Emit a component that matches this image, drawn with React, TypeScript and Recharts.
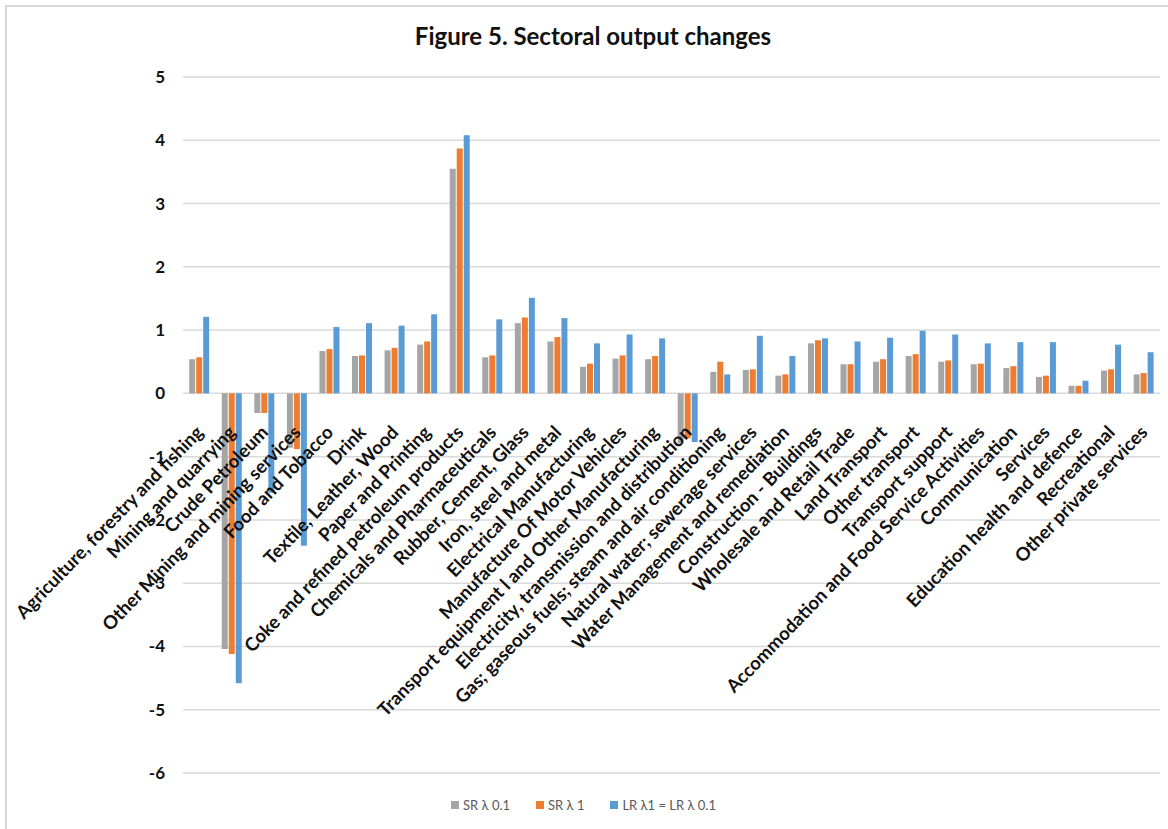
import React from 'react';
import { BarChart, Bar, XAxis, YAxis, CartesianGrid, Legend, LabelList } from 'recharts';

const sectors = [
  'Agriculture, forestry and fishing',
  'Mining and quarrying',
  'Crude Petroleum',
  'Other Mining and mining services',
  'Food and Tobacco',
  'Drink',
  'Textile, Leather, Wood',
  'Paper and Printing',
  'Coke and refined petroleum products',
  'Chemicals and Pharmaceuticals',
  'Rubber, Cement, Glass',
  'Iron, steel and metal',
  'Electrical Manufacturing',
  'Manufacture Of Motor Vehicles',
  'Transport equipment l and Other Manufacturing',
  'Electricity, transmission and distribution',
  'Gas; gaseous fuels; steam and air conditioning',
  'Natural water; sewerage services',
  'Water Management and remediation',
  'Construction - Buildings',
  'Wholesale and Retail Trade',
  'Land Transport',
  'Other transport',
  'Transport support',
  'Accommodation and Food Service Activities',
  'Communication',
  'Services',
  'Education health and defence',
  'Recreational',
  'Other private services',
];

const srLambda01 = [
  0.54, -4.04, -0.31, -0.86, 0.67, 0.59, 0.68, 0.77, 3.55, 0.57,
  1.11, 0.82, 0.42, 0.55, 0.54, -0.79, 0.34, 0.37, 0.28, 0.79,
  0.46, 0.5, 0.59, 0.5, 0.46, 0.4, 0.26, 0.12, 0.36, 0.3,
];

const srLambda1 = [
  0.57, -4.12, -0.31, -0.88, 0.7, 0.6, 0.72, 0.82, 3.87, 0.6,
  1.2, 0.89, 0.47, 0.6, 0.59, -0.71, 0.5, 0.38, 0.3, 0.84,
  0.46, 0.54, 0.62, 0.52, 0.47, 0.43, 0.28, 0.12, 0.38, 0.32,
];

const lrLambda = [
  1.21, -4.58, -1.57, -2.41, 1.05, 1.11, 1.07, 1.25, 4.08, 1.17,
  1.51, 1.19, 0.79, 0.93, 0.87, -0.77, 0.3, 0.91, 0.59, 0.87,
  0.82, 0.88, 0.99, 0.93, 0.79, 0.81, 0.81, 0.2, 0.77, 0.65,
];

const yTicks = [-6, -5, -4, -3, -2, -1, 0, 1, 2, 3, 4, 5];

const seriesInfo = [
  { key: 'sr01', name: 'SR λ 0.1', color: '#a5a5a5' },
  { key: 'sr1', name: 'SR λ 1', color: '#ed7d31' },
  { key: 'lr', name: 'LR λ1 = LR λ 0.1', color: '#5b9bd5' },
];

const data = sectors.map((name, i) => ({
  name,
  sr01: srLambda01[i],
  sr1: srLambda1[i],
  lr: lrLambda[i],
}));

const FONT = 'Lato, "Open Sans", sans-serif';

// category labels sit under the zero line, like Excel does
const CategoryLabel = (props: any) => {
  const vb = props.viewBox || props;
  const x = Number(props.x ?? vb.x);
  const y = Number(props.y ?? vb.y);
  const w = Number(props.width ?? vb.width);
  const h = Number(props.height ?? vb.height);
  const idx = props.index;
  const v = idx != null ? srLambda1[idx] : 1;
  const top = Math.min(y, y + h);
  const bottom = Math.max(y, y + h);
  const zeroY = v >= 0 ? bottom : top;
  const px = x + w / 2 + 5;
  const py = zeroY + 40;
  return (
    <text
      x={px}
      y={py}
      transform={`rotate(-46, ${px}, ${py})`}
      textAnchor="end"
      fontFamily={FONT}
      fontWeight={700}
      fontSize={18.5}
      fill="#111"
    >
      {idx != null ? sectors[idx] : props.value}
    </text>
  );
};

const LegendBox = () => (
  <div style={{ display: 'flex', justifyContent: 'center', gap: 26, fontSize: 13, color: '#595959', fontFamily: FONT }}>
    {seriesInfo.map((s) => (
      <span key={s.key} style={{ display: 'flex', alignItems: 'center', gap: 4 }}>
        <span style={{ width: 8, height: 8, background: s.color, display: 'inline-block' }} />
        {s.name}
      </span>
    ))}
  </div>
);

export default function App() {
  return (
    <div
      style={{
        position: 'absolute',
        left: 5,
        top: 5,
        width: 1163,
        height: 824,
        borderTop: '2px solid #d9d9d9',
        borderLeft: '2px solid #d9d9d9',
        background: '#fff',
        fontFamily: FONT,
      }}
    >
      <div
        style={{
          position: 'absolute',
          top: 14,
          left: 0,
          width: 1172,
          textAlign: 'center',
          fontSize: 24,
          fontWeight: 700,
          color: '#111',
        }}
      >
        Figure 5. Sectoral output changes
      </div>
      <BarChart
        width={1161}
        height={822}
        data={data}
        margin={{ top: 70, right: 8, left: 0, bottom: 40 }}
        barCategoryGap="19%"
        barGap={1}
      >
        <CartesianGrid vertical={false} stroke="#d9d9d9" strokeWidth={1.5} />
        <XAxis dataKey="name" hide />
        <YAxis
          domain={[-6, 5]}
          ticks={yTicks}
          width={176}
          axisLine={false}
          tickLine={false}
          tickMargin={12}
          tick={{ fill: '#111', fontSize: 17, fontWeight: 700, fontFamily: FONT }}
        />
        <Legend
          verticalAlign="bottom"
          align="center"
          content={LegendBox}
          wrapperStyle={{ bottom: 16 }}
        />
        <Bar dataKey="sr01" name="SR λ 0.1" fill="#a5a5a5" isAnimationActive={false} />
        <Bar dataKey="sr1" name="SR λ 1" fill="#ed7d31" isAnimationActive={false}>
          <LabelList dataKey="name" content={CategoryLabel} />
        </Bar>
        <Bar dataKey="lr" name="LR λ1 = LR λ 0.1" fill="#5b9bd5" isAnimationActive={false} />
      </BarChart>
    </div>
  );
}
